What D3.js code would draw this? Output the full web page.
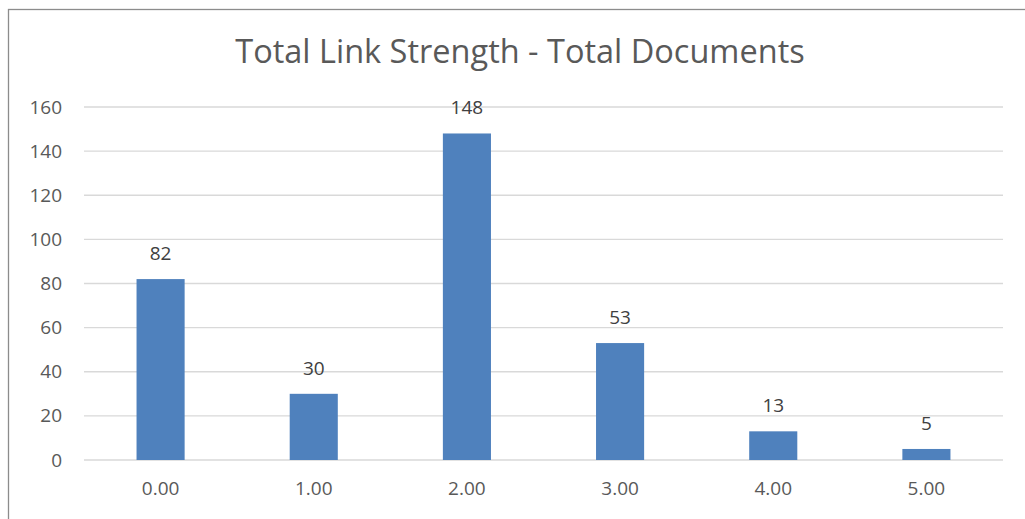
<!DOCTYPE html>
<html>
<head>
<meta charset="utf-8">
<script src="https://cdn.jsdelivr.net/npm/d3@7"></script>
<style>
  html, body { margin: 0; padding: 0; background: #fff; }
  svg { display: block; font-family: "Open Sans", "Liberation Sans", sans-serif; }
</style>
</head>
<body>
<svg id="chart" width="1025" height="519"></svg>
<script>
// Documents per total link strength
const categories = ["0.00", "1.00", "2.00", "3.00", "4.00", "5.00"];
const documents = [82, 30, 148, 53, 13, 5];
const yTicks = [0, 20, 40, 60, 80, 100, 120, 140, 160];
const title = "Total Link Strength - Total Documents";

const svg = d3.select("#chart");
const W = 1025, H = 519;
const plot = { left: 84, right: 1003, top: 107, bottom: 460 };

// outer chart frame
svg.append("rect")
  .attr("x", 8.5).attr("y", 9.5)
  .attr("width", W + 10).attr("height", H + 10)
  .attr("fill", "#fff").attr("stroke", "#8c8c8c").attr("stroke-width", 1.3);

const x = d3.scaleBand().domain(categories).range([plot.left, plot.right]).paddingInner(0.686).paddingOuter(0.343);
const y = d3.scaleLinear().domain([0, 160]).range([plot.bottom, plot.top]);

// horizontal gridlines
svg.append("g").selectAll("line").data(yTicks).join("line")
  .attr("x1", plot.left).attr("x2", plot.right)
  .attr("y1", d => y(d)).attr("y2", d => y(d))
  .attr("stroke", "#d9d9d9").attr("stroke-width", 1.3);

// y axis labels
const yAxis = svg.append("g").attr("transform", `translate(${plot.left - 22},0)`)
  .call(d3.axisLeft(y).tickValues(yTicks).tickSize(0).tickPadding(0).tickFormat(d3.format("d")));
yAxis.select(".domain").remove();
yAxis.selectAll("text").attr("fill", "#595959").attr("font-size", 19).attr("font-family", "Open Sans, sans-serif");

// x axis labels
const xAxis = svg.append("g").attr("transform", `translate(0,${plot.bottom})`)
  .call(d3.axisBottom(x).tickSize(0).tickPadding(22));
xAxis.select(".domain").remove();
xAxis.selectAll("text").attr("fill", "#595959").attr("font-size", 19).attr("font-family", "Open Sans, sans-serif");

// bars
const rows = categories.map((c, i) => ({ c, v: documents[i] }));
svg.append("g").selectAll("rect").data(rows).join("rect")
  .attr("x", d => x(d.c)).attr("width", x.bandwidth())
  .attr("y", d => y(d.v)).attr("height", d => y(0) - y(d.v))
  .attr("fill", "#4f81bd");

// value labels
svg.append("g").selectAll("text").data(rows).join("text")
  .attr("x", d => x(d.c) + x.bandwidth() / 2)
  .attr("y", d => y(d.v) - 19)
  .attr("text-anchor", "middle")
  .attr("fill", "#404040").attr("font-size", 19)
  .text(d => d.v);

// title
svg.append("text")
  .attr("x", 520).attr("y", 63)
  .attr("text-anchor", "middle")
  .attr("fill", "#595959").attr("font-size", 32.5)
  .text(title);
</script>
</body>
</html>
